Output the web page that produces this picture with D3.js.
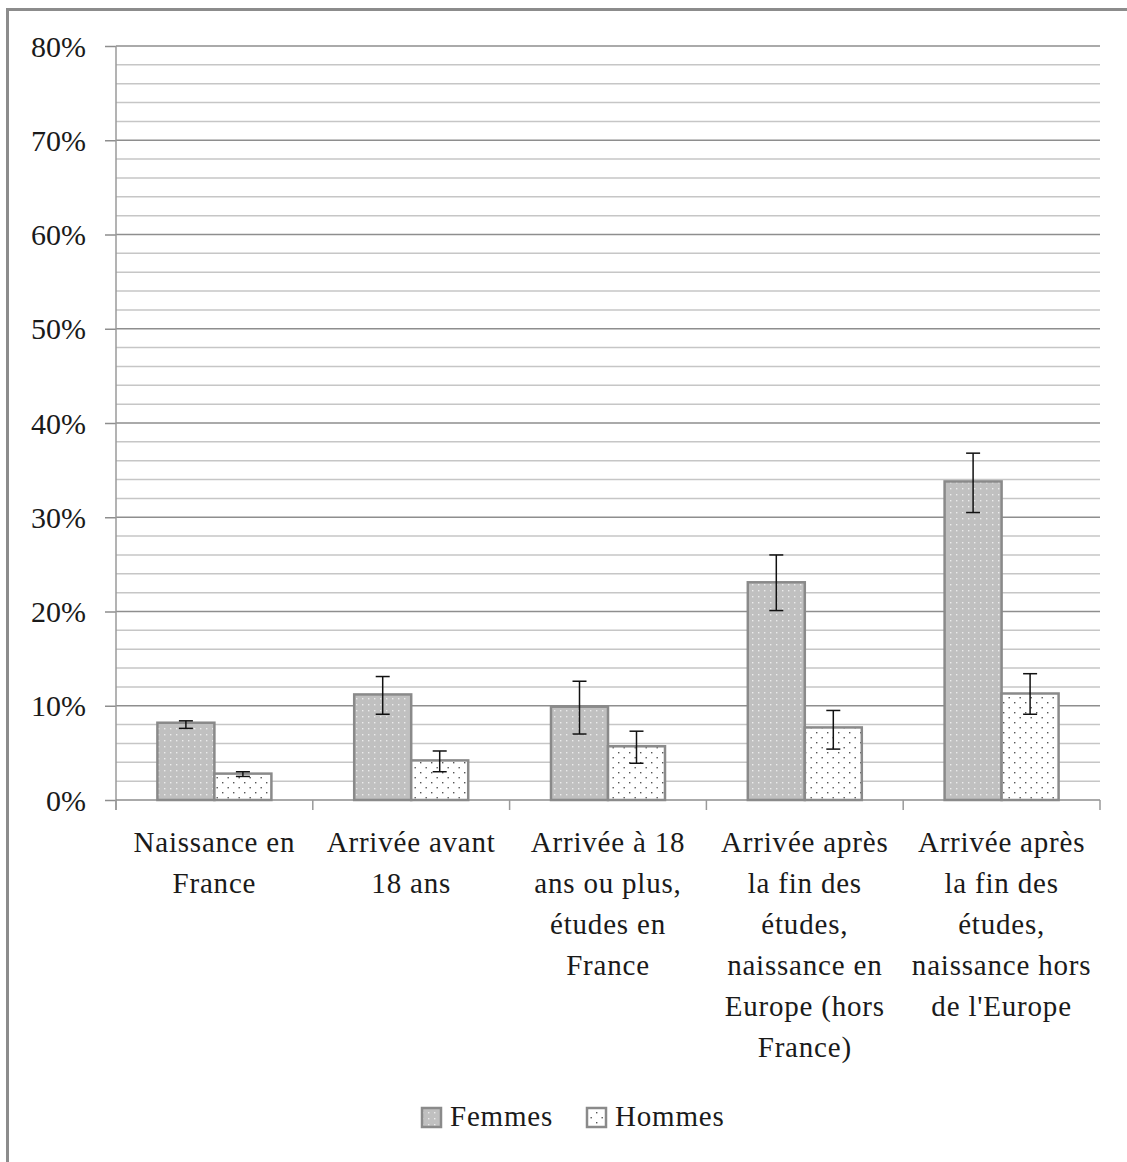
<!DOCTYPE html>
<html><head><meta charset="utf-8">
<script src="https://cdn.jsdelivr.net/npm/d3@7"></script>
<style>
html,body{margin:0;padding:0;background:#fff;}
svg{display:block;}
text{font-family:"Liberation Serif","Tinos","DejaVu Serif","Times New Roman",serif;fill:#1a1a1a;}
</style></head><body>
<svg id="c" width="1127" height="1162"></svg>
<script>
const categories = [
  ["Naissance en", "France"],
  ["Arrivée avant", "18 ans"],
  ["Arrivée à 18", "ans ou plus,", "études en", "France"],
  ["Arrivée après", "la fin des", "études,", "naissance en", "Europe (hors", "France)"],
  ["Arrivée après", "la fin des", "études,", "naissance hors", "de l'Europe"]
];
const seriesNames = ["Femmes", "Hommes"];
const femmes = [0.082, 0.112, 0.099, 0.231, 0.338];
const femmesLow = [0.076, 0.091, 0.070, 0.201, 0.305];
const femmesHigh = [0.084, 0.131, 0.126, 0.260, 0.368];
const hommes = [0.028, 0.042, 0.057, 0.077, 0.113];
const hommesLow = [0.025, 0.030, 0.039, 0.054, 0.091];
const hommesHigh = [0.030, 0.052, 0.073, 0.095, 0.134];
const yTicks = [0, 0.1, 0.2, 0.3, 0.4, 0.5, 0.6, 0.7, 0.8];
const yMinor = d3.range(0, 0.8001, 0.02);

const FONT = "'Liberation Serif','Tinos','DejaVu Serif',serif";
const svg = d3.select("#c");
const defs = svg.append("defs");
const pf = defs.append("pattern").attr("id","pf").attr("patternUnits","userSpaceOnUse")
  .attr("width",6).attr("height",6);
pf.append("rect").attr("width",6).attr("height",6).attr("fill","#c0c0c0");
pf.append("rect").attr("x",2).attr("y",2).attr("width",1.4).attr("height",1.4).attr("fill","#ececec");
const ph = defs.append("pattern").attr("id","ph").attr("patternUnits","userSpaceOnUse")
  .attr("width",11).attr("height",10);
ph.append("rect").attr("width",11).attr("height",10).attr("fill","#fff");
ph.append("rect").attr("x",2).attr("y",2).attr("width",1.4).attr("height",1.4).attr("fill","#555");
ph.append("rect").attr("x",7.5).attr("y",7).attr("width",1.4).attr("height",1.4).attr("fill","#555");

svg.append("rect").attr("x",7.5).attr("y",9.5).attr("width",1200).attr("height",1300)
  .attr("fill","none").attr("stroke","#8c8c8c").attr("stroke-width",3);

const x0 = 116, x1 = 1100, yTop = 46, yBot = 800;
const y = d3.scaleLinear().domain([0,0.8]).range([yBot, yTop]);
const x = d3.scaleBand().domain(d3.range(categories.length)).range([x0, x1]).paddingInner(0).paddingOuter(0);
const barW = 57;

svg.append("g").selectAll("line").data(yMinor.filter(v => Math.abs(v*10 - Math.round(v*10)) > 1e-6))
  .join("line").attr("x1",x0).attr("x2",x1).attr("y1",d=>y(d)).attr("y2",d=>y(d))
  .attr("stroke","#c6c6c6").attr("stroke-width",1.5);
svg.append("g").selectAll("line").data(yTicks.filter(d=>d>0))
  .join("line").attr("x1",x0).attr("x2",x1).attr("y1",d=>y(d)).attr("y2",d=>y(d))
  .attr("stroke","#8e8e8e").attr("stroke-width",1.5);

const yAxis = d3.axisLeft(y).tickValues(yTicks).tickFormat(d3.format(".0%")).tickSize(11).tickPadding(19);
const gy = svg.append("g").attr("transform",`translate(${x0},0)`).call(yAxis);
gy.attr("font-family", FONT).attr("font-size", 30);
gy.select(".domain").remove();
gy.selectAll(".tick line").attr("stroke","#8e8e8e").attr("stroke-width",1.5);
gy.selectAll(".tick text").style("font-family",FONT).style("font-size","30px").attr("fill","#1a1a1a").attr("dy","0.34em");
svg.append("line").attr("x1",x0).attr("x2",x0).attr("y1",yTop).attr("y2",yBot+10).attr("stroke","#9a9a9a").attr("stroke-width",1.5);

svg.append("line").attr("x1",x0).attr("x2",x1).attr("y1",yBot).attr("y2",yBot).attr("stroke","#8e8e8e").attr("stroke-width",1.5);
svg.append("g").selectAll("line").data(d3.range(categories.length+1))
  .join("line").attr("x1",d=>x0 + d*x.bandwidth()).attr("x2",d=>x0 + d*x.bandwidth())
  .attr("y1",yBot).attr("y2",yBot+10).attr("stroke","#9a9a9a").attr("stroke-width",1.5);

const series = [
  {name:"Femmes", vals:femmes, lo:femmesLow, hi:femmesHigh, fill:"url(#pf)", off:-barW},
  {name:"Hommes", vals:hommes, lo:hommesLow, hi:hommesHigh, fill:"url(#ph)", off:0}
];
series.forEach(s => {
  svg.append("g").selectAll("rect").data(s.vals).join("rect")
    .attr("x",(d,i)=>x(i)+x.bandwidth()/2+s.off)
    .attr("y",d=>y(d)).attr("width",barW).attr("height",d=>yBot-y(d))
    .attr("fill",s.fill).attr("stroke","#8a8a8a").attr("stroke-width",2.5);
});
series.forEach(s => {
  const g = svg.append("g");
  s.vals.forEach((v,i) => {
    const cx = x(i)+x.bandwidth()/2+s.off+barW/2;
    g.append("line").attr("x1",cx).attr("x2",cx).attr("y1",y(s.hi[i])).attr("y2",y(s.lo[i])).attr("stroke","#111").attr("stroke-width",1.5);
    [s.hi[i], s.lo[i]].forEach(e => g.append("line").attr("x1",cx-7).attr("x2",cx+7).attr("y1",y(e)).attr("y2",y(e)).attr("stroke","#111").attr("stroke-width",1.5));
  });
});

const lg = svg.append("g");
categories.forEach((lines,i) => {
  const t = lg.append("text").attr("text-anchor","middle").style("font-family",FONT).style("font-size","29px").style("letter-spacing","0.8px");
  lines.forEach((ln,j) => t.append("tspan").attr("x",x(i)+x.bandwidth()/2).attr("y",852 + j*41).text(ln));
});

const legendX = [422, 587];
series.forEach((s,i) => {
  svg.append("rect").attr("x",legendX[i]).attr("y",1108).attr("width",19).attr("height",19)
    .attr("fill",s.fill).attr("stroke","#8a8a8a").attr("stroke-width",2.5);
  svg.append("text").attr("x",legendX[i]+28).attr("y",1126).style("font-family",FONT).style("font-size","29px").style("letter-spacing","0.8px").text(s.name);
});
</script>
</body></html>
